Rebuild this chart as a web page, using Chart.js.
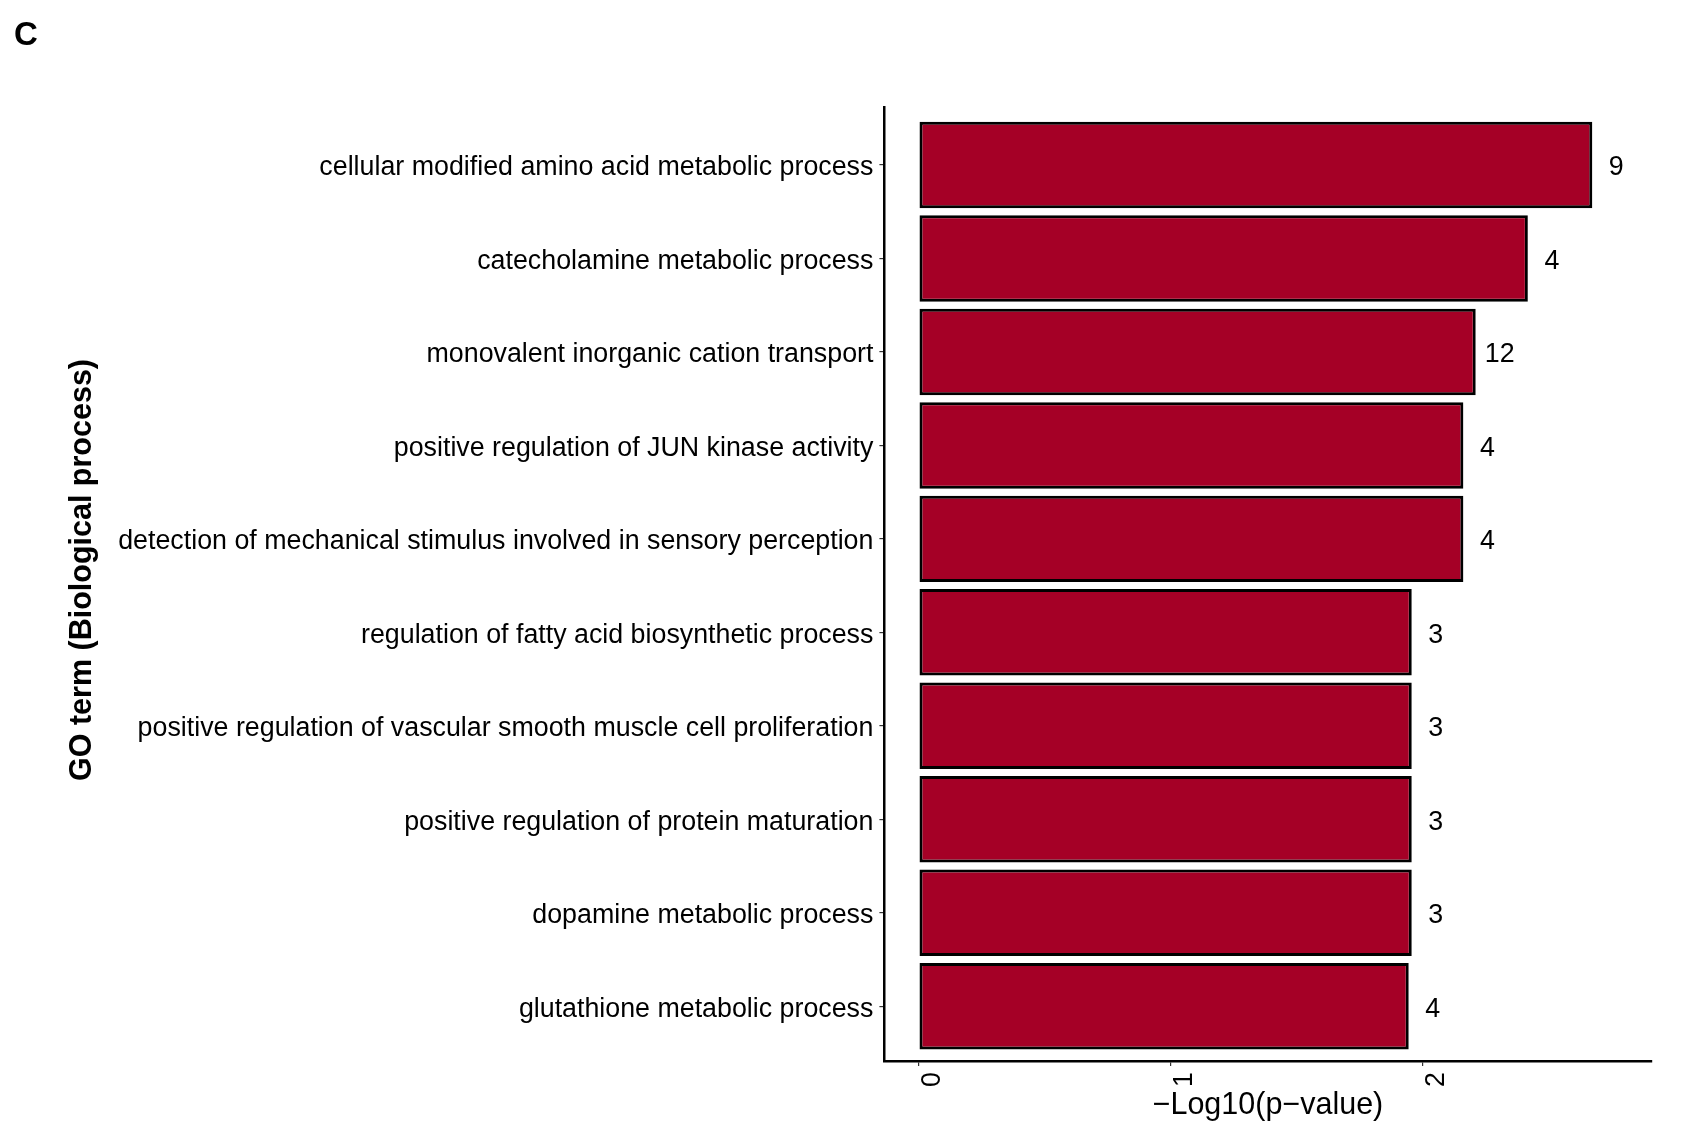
<!DOCTYPE html>
<html>
<head>
<meta charset="utf-8">
<title>GO term (Biological process)</title>
<script src="https://cdn.jsdelivr.net/npm/chart.js@4.4.1/dist/chart.umd.min.js"></script>
<style>
    html, body { margin: 0; padding: 0; background: #fff; overflow: hidden; }
    #wrap { position: relative; width: 1687px; height: 1140px; }
</style>
</head>
<body>
<div id="wrap"><canvas id="go-chart"></canvas></div>
<script>
// GO terms, top to bottom
const goTerms = [
    'cellular modified amino acid metabolic process',
    'catecholamine metabolic process',
    'monovalent inorganic cation transport',
    'positive regulation of JUN kinase activity',
    'detection of mechanical stimulus involved in sensory perception',
    'regulation of fatty acid biosynthetic process',
    'positive regulation of vascular smooth muscle cell proliferation',
    'positive regulation of protein maturation',
    'dopamine metabolic process',
    'glutathione metabolic process'
];

// -Log10(p-value) per term
const logP = [2.674, 2.418, 2.211, 2.162, 2.162, 1.957, 1.957, 1.957, 1.957, 1.945];

// gene count shown next to each bar
const geneCounts = [9, 4, 12, 4, 4, 3, 3, 3, 3, 4];

// x axis tick labels
const xTicks = [0, 1, 2];

const FONT = '"Liberation Sans", Arial, Helvetica, sans-serif';

// draws panel tag, y title and the count labels
const extraText = {
    id: 'extraText',
    afterDatasetsDraw(chart) {
        const ctx = chart.ctx;
        const meta = chart.getDatasetMeta(0);
        ctx.save();
        ctx.fillStyle = '#000';
        ctx.font = '26.8px ' + FONT;
        ctx.textAlign = 'center';
        ctx.textBaseline = 'middle';
        meta.data.forEach((bar, i) => {
            ctx.fillText(String(geneCounts[i]), bar.x + 24, bar.y + 3);
        });

        ctx.font = 'bold 33px ' + FONT;
        ctx.textAlign = 'left';
        ctx.textBaseline = 'alphabetic';
        ctx.fillText('C', 14, 45);

        ctx.translate(83, 570);
        ctx.rotate(-Math.PI / 2);
        ctx.font = 'bold 30.5px ' + FONT;
        ctx.textAlign = 'center';
        ctx.textBaseline = 'middle';
        ctx.fillText('GO term (Biological process)', 0, 0);
        ctx.restore();
    }
};

function initChart() {
    Chart.defaults.font.family = FONT;
    Chart.defaults.color = '#000';

    const ctx = document.getElementById('go-chart').getContext('2d');
    new Chart(ctx, {
        type: 'bar',
        data: {
            datasets: [{
                data: logP.map((v, i) => ({ x: v, y: i })),
                backgroundColor: '#A50026',
                borderColor: '#000',
                borderWidth: 3,
                borderSkipped: false,
                barPercentage: 0.925,
                categoryPercentage: 1
            }]
        },
        options: {
            indexAxis: 'y',
            responsive: true,
            maintainAspectRatio: false,
            animation: false,
            layout: { padding: { top: 107.6, right: 35.5, left: 0, bottom: 0 } },
            plugins: {
                legend: { display: false },
                tooltip: { enabled: false }
            },
            scales: {
                x: {
                    type: 'linear',
                    min: -0.137,
                    max: 2.909,
                    afterBuildTicks: axis => { axis.ticks = xTicks.map(v => ({ value: v })); },
                    afterFit: axis => { axis.height = 79; },
                    grid: { drawOnChartArea: false, drawTicks: true, tickLength: 5, color: '#333', lineWidth: 1.2 },
                    border: { display: true, color: '#000', width: 2.5 },
                    ticks: {
                        minRotation: 90,
                        maxRotation: 90,
                        padding: 6,
                        labelOffset: 14,
                        font: { size: 26.8 },
                        color: '#000'
                    },
                    title: {
                        display: true,
                        text: '\u2212Log10(p\u2212value)',
                        font: { size: 30.5 },
                        color: '#000',
                        padding: { top: 0, bottom: 16 }
                    }
                },
                y: {
                    type: 'linear',
                    reverse: true,
                    offset: false,
                    min: -0.614,
                    max: 9.586,
                    afterBuildTicks: axis => { axis.ticks = goTerms.map((t, i) => ({ value: i })); },
                    afterFit: axis => { axis.width = 884.4; },
                    grid: { offset: false, drawOnChartArea: false, drawTicks: true, tickLength: 5, color: '#333', lineWidth: 1.2 },
                    border: { display: true, color: '#000', width: 2.5 },
                    ticks: {
                        autoSkip: false,
                        padding: 6,
                        labelOffset: 3,
                        font: { size: 26.8 },
                        color: '#000',
                        callback: v => goTerms[v]
                    }
                }
            }
        },
        plugins: [extraText]
    });
}

document.addEventListener('DOMContentLoaded', () => {
    initChart();
});
</script>
</body>
</html>
